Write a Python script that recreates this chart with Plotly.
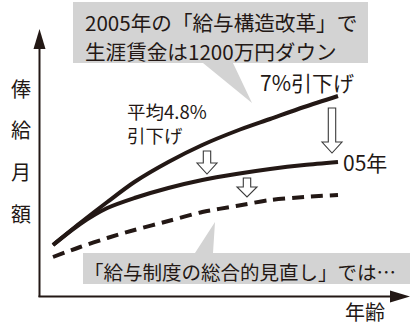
import plotly.graph_objects as go

# ---- data (conceptual: age vs. monthly salary, arbitrary units) ----
ages = [18, 22, 26, 30, 35, 40, 45, 50, 55, 60]
pay_old = [10.2, 14.6, 18.8, 22.8, 26.8, 30.2, 33.0, 35.4, 37.8, 40.0]     # before reform
pay_2005 = [10.2, 14.4, 17.6, 19.6, 21.6, 23.2, 24.4, 25.4, 26.2, 26.8]    # after 2005 reform
pay_new = [7.8, 9.8, 11.6, 13.2, 15.0, 16.8, 18.0, 19.2, 19.8, 20.2]       # comprehensive review

title_lines = ["2005年の「給与構造改革」で", "生涯賃金は1200万円ダウン"]
label_old = "7%引下げ"
label_avg = ["平均4.8%", "引下げ"]
label_05 = "05年"
y_label = ["俸", "給", "月", "額"]
x_label = "年齢"
bottom_note = "「給与制度の総合的見直し」では…"

W, H = 410, 325
INK = "#231815"
GRAY = "#d3d3d3"
FONT = "Noto Sans CJK JP"


def px(x):
    return x / W


def py(y):
    return 1 - y / H


def path(points):
    return "M" + " L".join(f"{px(a):.5f},{py(b):.5f}" for a, b in points) + " Z"


fig = go.Figure()
line_style = dict(color=INK, width=4, shape="spline", smoothing=0.8)
fig.add_trace(go.Scatter(x=ages, y=pay_old, mode="lines", line=line_style, hoverinfo="skip"))
fig.add_trace(go.Scatter(x=ages, y=pay_2005, mode="lines", line=line_style, hoverinfo="skip"))
fig.add_trace(go.Scatter(x=ages, y=pay_new, mode="lines",
                         line=dict(color=INK, width=4, dash="12px,7px", shape="spline", smoothing=0.8),
                         hoverinfo="skip"))

shapes = []
# callout boxes
shapes.append(dict(type="path", xref="paper", yref="paper", layer="below",
                   path=path([(73, 2), (368, 2), (368, 63), (233, 63), (252, 103), (203, 63), (73, 63)]),
                   fillcolor=GRAY, line=dict(width=0)))
shapes.append(dict(type="path", xref="paper", yref="paper", layer="below",
                   path=path([(83, 253), (195, 253), (215, 222), (213, 253), (410, 253), (410, 284), (83, 284)]),
                   fillcolor=GRAY, line=dict(width=0)))
# axes
shapes.append(dict(type="line", xref="paper", yref="paper", x0=px(39.5), x1=px(39.5), y0=py(297), y1=py(45),
                   line=dict(color=INK, width=2)))
shapes.append(dict(type="path", xref="paper", yref="paper",
                   path=path([(39.5, 29), (45.5, 49), (33.5, 49)]), fillcolor=INK, line=dict(width=0)))
shapes.append(dict(type="line", xref="paper", yref="paper", x0=px(38.5), x1=px(395), y0=py(296.5), y1=py(296.5),
                   line=dict(color=INK, width=2)))
shapes.append(dict(type="path", xref="paper", yref="paper",
                   path=path([(410, 296.5), (390, 290.5), (390, 302.5)]), fillcolor=INK, line=dict(width=0)))


def down_arrow(cx, yt, yh, yb, w=3.7, h=10):
    return dict(type="path", xref="paper", yref="paper",
                path=path([(cx - w, yt), (cx + w, yt), (cx + w, yh), (cx + h, yh), (cx, yb),
                           (cx - h, yh), (cx - w, yh)]),
                fillcolor="white", line=dict(color="#3a3a3a", width=1.1))


shapes.append(down_arrow(332, 108, 142, 153))
shapes.append(down_arrow(207, 151, 163, 174))
shapes.append(down_arrow(247, 178, 187, 197))

annotations = []


def text(t, x, y, size=20, xanchor="left"):
    annotations.append(dict(text=t, x=px(x), y=py(y), xref="paper", yref="paper", showarrow=False,
                            xanchor=xanchor, yanchor="middle", align="left", borderpad=0,
                            font=dict(family=FONT, size=size, color=INK)))


text(title_lines[0], 84, 22.5, 20.6)
text(title_lines[1], 84, 51, 20.6)
text(label_old, 259, 82, 21)
text("<br>".join(label_avg), 126, 122.5, 18.5)
text(label_05, 342, 162, 21)
for i, ch in enumerate(y_label):
    text(ch, 21, 88 + i * 41.7, 20, xanchor="center")
text(x_label, 365, 311, 20, xanchor="center")
text(bottom_note, 83, 271, 19.5)

# axis ranges: pixel 53 -> age 18, pixel 338 -> age 60 ; pixel 296 -> 0, 5 px per unit
kx = (338 - 53) / (60 - 18)
x_min = 18 - 53 / kx
x_max = 60 + (W - 338) / kx
y_min = -(H - 296) / 5
y_max = 296 / 5

fig.update_layout(
    width=W, height=H, margin=dict(l=0, r=0, t=0, b=0),
    paper_bgcolor="white", plot_bgcolor="white", showlegend=False,
    xaxis=dict(range=[x_min, x_max], visible=False, fixedrange=True),
    yaxis=dict(range=[y_min, y_max], visible=False, fixedrange=True),
    shapes=shapes, annotations=annotations,
)

fig.write_html("out.html", config={"displayModeBar": False})
